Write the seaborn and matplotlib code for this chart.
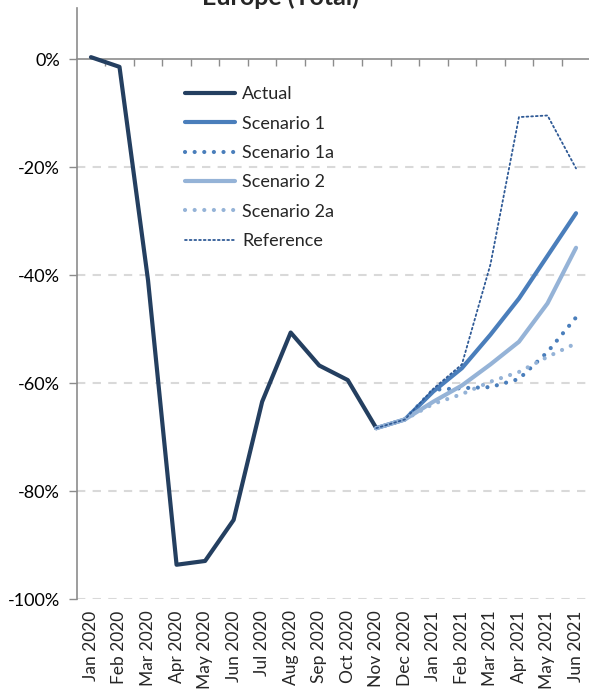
#!/usr/bin/env python
"""
Europe (Total) - actual traffic vs. recovery scenarios, re-drawn with seaborn.
"""

import numpy as np
import pandas as pd
import matplotlib
matplotlib.use('Agg')
import matplotlib.pyplot as plt
from matplotlib.ticker import PercentFormatter
import seaborn as sns

# Data (percent change)
months = ['Jan 2020', 'Feb 2020', 'Mar 2020', 'Apr 2020', 'May 2020', 'Jun 2020',
          'Jul 2020', 'Aug 2020', 'Sep 2020', 'Oct 2020', 'Nov 2020', 'Dec 2020',
          'Jan 2021', 'Feb 2021', 'Mar 2021', 'Apr 2021', 'May 2021', 'Jun 2021']

# Actual runs Jan 2020 - Nov 2020
actual = [0.4, -1.4, -40.9, -93.6, -92.9, -85.3, -63.4, -50.6, -56.7, -59.4, -68.3]

# Scenarios run Nov 2020 - Jun 2021
scenario_1 = [-68.3, -66.7, -61.5, -57.2, -51.0, -44.3, -36.4, -28.5]
scenario_1a = [-68.3, -66.7, -61.2, -60.9, -60.7, -59.2, -54.2, -47.8]
scenario_2 = [-68.3, -66.7, -63.4, -60.4, -56.5, -52.3, -45.2, -34.9]
scenario_2a = [-68.3, -66.7, -63.8, -62.0, -59.7, -57.9, -55.1, -52.6]
reference = [-68.3, -66.7, -61.0, -56.5, -38.0, -10.7, -10.4, -20.2]

scenario_start = months.index('Nov 2020')

NAVY = '#243F60'
MID = '#4A7EBB'
LIGHT = '#95B3D7'
REF = '#2F5A96'
GRID = '#D9D9D9'
AXIS = '#8C8C8C'


def main():
    sns.set_style('white')
    plt.rcParams['font.family'] = ['Lato', 'DejaVu Sans']
    plt.rcParams['axes.unicode_minus'] = False

    fig = plt.figure(figsize=(5.89, 6.91), dpi=100)
    ax = fig.add_axes([0.1302, 0.1327, 0.872, 0.8557])

    x_all = np.arange(len(months))
    x_scen = x_all[scenario_start:]

    series = [
        ('Actual', x_all[:len(actual)], actual, NAVY, 3.0, '-'),
        ('Scenario 1', x_scen, scenario_1, MID, 3.0, '-'),
        ('Scenario 1a', x_scen, scenario_1a, MID, 3.0, (0, (0.01, 2.3))),
        ('Scenario 2', x_scen, scenario_2, LIGHT, 3.0, '-'),
        ('Scenario 2a', x_scen, scenario_2a, LIGHT, 3.0, (0, (0.01, 2.3))),
        ('Reference', x_scen, reference, REF, 1.3, (0, (1, 1.6))),
    ]
    for name, xs, ys, color, lw, ls in series:
        df = pd.DataFrame({'month': xs, 'value': ys})
        sns.lineplot(data=df, x='month', y='value', ax=ax, color=color,
                     linewidth=lw, linestyle=ls, label=name,
                     dash_capstyle='round', solid_capstyle='round')

    ax.set_xlim(-0.5, len(months) - 0.5)
    ax.set_ylim(-100, 9.5)

    # y axis
    ax.set_yticks(np.arange(-100, 1, 20))
    ax.yaxis.set_major_formatter(PercentFormatter(decimals=0))
    ax.tick_params(axis='y', direction='out', length=6, width=1, color=AXIS,
                   labelsize=13, labelcolor='black', pad=6, left=True)
    ax.grid(axis='y', color=GRID, linestyle=(0, (4, 3.5)), linewidth=1.5)
    ax.grid(axis='x', visible=False)
    # the zero line is drawn solid below, so drop its dashed gridline
    ax.yaxis.get_gridlines()[-1].set_visible(False)

    # category labels at the bottom
    ax.set_xticks(x_all)
    ax.set_xticklabels(months, rotation=90, fontsize=12.5)
    ax.tick_params(axis='x', length=0, pad=8)

    # zero line with tick marks between categories
    sec = ax.secondary_xaxis(0, transform=ax.transData)
    sec.set_xticks(x_all[1:] - 0.5)
    sec.set_xticklabels([])
    sec.tick_params(axis='x', direction='out', length=5, width=1, color=AXIS)
    sec.spines['bottom'].set_color(AXIS)
    sec.spines['bottom'].set_linewidth(1.2)

    for side in ['top', 'right', 'bottom']:
        ax.spines[side].set_visible(False)
    ax.spines['left'].set_color(AXIS)
    ax.spines['left'].set_linewidth(1.2)

    ax.set_xlabel('')
    ax.set_ylabel('')

    ax.legend(loc='upper left', bbox_to_anchor=(0.197, 0.88), frameon=False,
              fontsize=13, handlelength=2.77, handletextpad=0.39,
              labelspacing=0.74, borderaxespad=0)

    fig.text(280 / 589, 1 - 5 / 691, 'Europe (Total)', ha='center', va='baseline',
             fontsize=18, fontweight='bold')

    fig.savefig('out.png', dpi=100)
    plt.close(fig)


if __name__ == '__main__':
    main()
